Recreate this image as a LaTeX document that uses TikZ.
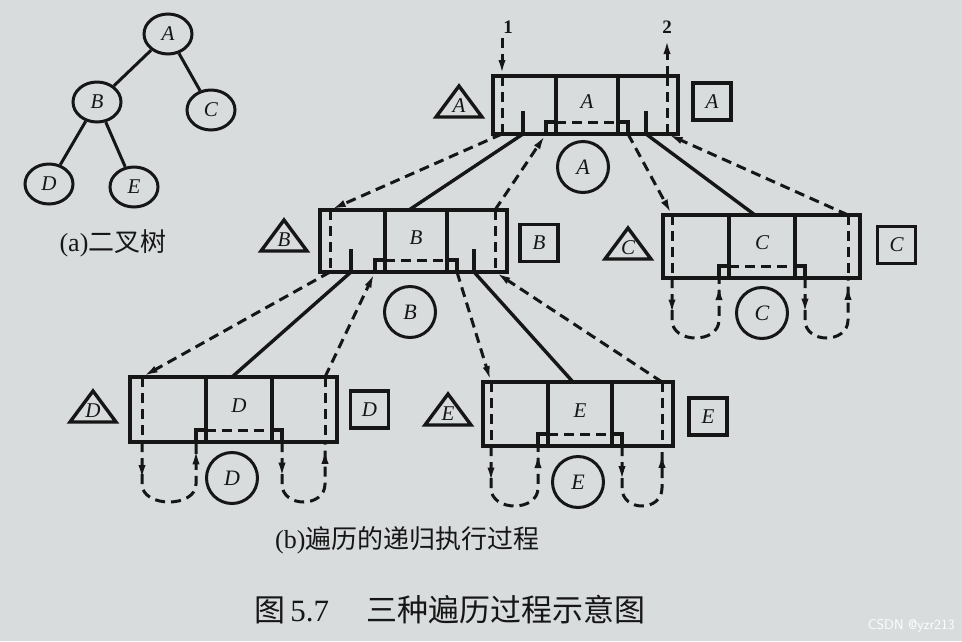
\documentclass[tikz,border=0pt]{standalone}
\usepackage{fontspec}
\setmainfont{Liberation Serif}
\newfontfamily\cjk{Noto Sans CJK SC}
\usetikzlibrary{arrows.meta,shapes.geometric,decorations.markings}
\definecolor{bgc}{RGB}{216,220,221}
\definecolor{ink}{RGB}{22,22,22}
\tikzset{
  arr/.style={-{Latex[length=16pt,width=7pt]}},
  box/.style={draw=ink, line width=3.4pt},
  dsh/.style={draw=ink, line width=3pt, dash pattern=on 10pt off 6pt},
  lett/.style={font=\fontsize{21}{21}\selectfont\itshape, text=ink, inner sep=0pt},
  tnode/.style={ellipse, draw=ink, line width=3pt, minimum width=48pt, minimum height=40pt, inner sep=0pt, font=\fontsize{21}{21}\selectfont\itshape, text=ink},
  cnode/.style={circle, draw=ink, line width=3pt, minimum size=51pt, inner sep=0pt, font=\fontsize{22}{22}\selectfont\itshape, text=ink},
  snode/.style={draw=ink, line width=3.4pt, minimum width=38pt, minimum height=37pt, inner sep=0pt, font=\fontsize{21}{21}\selectfont\itshape, text=ink},
  captxt/.style={font=\fontsize{26}{26}\selectfont, text=ink, inner sep=0pt},
  loopmarks/.style={postaction={decorate}, decoration={markings,
      mark=at position 0.25 with {\arrow{Latex[length=16pt,width=7pt]}},
      mark=at position 0.96 with {\arrow{Latex[length=16pt,width=7pt]}}}},
}
% #1 letter, #2 x1, #3 y1, #4 x2, #5 y2, #6 m1, #7 m2, #8 dl, #9 dr
\newcommand{\RecBox}[9]{%
  \draw[box] (#2,#3) rectangle (#4,#5);
  \draw[box] (#6,#3) -- (#6,#5) (#7,#3) -- (#7,#5);
  \node[lett] (mid#1) at ({(#6+#7)/2},{#3+0.44*(#5-#3)}) {#1};
  \draw[dsh] (#8,#3) -- (#8,#5);
  \draw[dsh] (#9,#3) -- (#9,#5);
  \draw[box] (#6-10,#5) -- (#6-10,#5-12) -- (#6,#5-12);
  \draw[dsh] (#6,#5-12) -- (#7,#5-12);
  \draw[box] (#7,#5-12) -- (#7+10,#5-12) -- (#7+10,#5);
  \coordinate (#1dlt) at (#8,#3);
  \coordinate (#1dlb) at (#8,#5);
  \coordinate (#1drt) at (#9,#3);
  \coordinate (#1drb) at (#9,#5);
  \coordinate (#1sl) at (#6-10,#5);
  \coordinate (#1sr) at (#7+10,#5);
  \coordinate (#1tl) at (#8+21,#5);
  \coordinate (#1tr) at (#9-21,#5);
  \coordinate (#1top) at ({(#6+#7)/2-7},#3);
  \coordinate (#1dll) at (#8,#5+42);
  \coordinate (#1sll) at (#6-10,#5+42);
  \coordinate (#1srl) at (#7+10,#5+42);
  \coordinate (#1drl) at (#9,#5+42);
}
% triangle: #1 letter, #2 cx, #3 base y
\newcommand{\TriMark}[3]{%
  \draw[box, line join=miter] (#2-23,#3) -- (#2,#3-31) -- (#2+23,#3) -- cycle;
  \node[lett] (tri#1) at (#2,#3-11) {#1};
}
\newcommand{\Ticks}[1]{%
  \draw[box] (#1tl) -- ++(0,-23);
  \draw[box] (#1tr) -- ++(0,-23);
}
\newcommand{\LeafLoops}[1]{%
  \draw[dsh, loopmarks] (#1dlb) -- (#1dll) .. controls +(0,24) and +(0,24) .. (#1sll) -- (#1sl);
  \draw[dsh, loopmarks] (#1sr) -- (#1srl) .. controls +(0,24) and +(0,24) .. (#1drl) -- (#1drb);
}
\newcommand{\Links}[2]{%
  \draw[dsh, arr] (#1dlb) -- (#2dlt);
  \draw[box] (#1tl) -- (#2top);
  \draw[dsh, arr] (#2drt) -- (#1sl);
}
\newcommand{\RLinks}[2]{%
  \draw[dsh, arr] (#1sr) -- (#2dlt);
  \draw[box] (#1tr) -- (#2top);
  \draw[dsh, arr] (#2drt) -- (#1drb);
}
\begin{document}
\begin{tikzpicture}[x=1pt,y=-1pt]
\fill[bgc] (0,0) rectangle (962,641);
\useasboundingbox (0,0) rectangle (962,641);

% (a) binary tree
\node[tnode] (tA) at (168,34) {A};
\node[tnode] (tB) at (97,102) {B};
\node[tnode] (tC) at (211,110) {C};
\node[tnode] (tD) at (49,184) {D};
\node[tnode] (tE) at (134,187) {E};
\draw[box, line width=3pt] (tA) -- (tB);
\draw[box, line width=3pt] (tA) -- (tC);
\draw[box, line width=3pt] (tB) -- (tD);
\draw[box, line width=3pt] (tB) -- (tE);
\node[captxt] (capa) at (113,243) {(a){\cjk 二叉树}};

% (b) record boxes
\RecBox{A}{493}{76}{678}{134}{556}{618}{502}{667}
\RecBox{B}{320}{210}{507}{272}{385}{447}{330}{495}
\RecBox{C}{663}{215}{860}{278}{729}{795}{672}{848}
\RecBox{D}{130}{377}{337}{442}{206}{272}{142}{325}
\RecBox{E}{483}{382}{673}{446}{548}{612}{491}{662}
\Ticks{A}
\Ticks{B}

% entry / exit
\node[font=\fontsize{19}{19}\selectfont\bfseries, text=ink, inner sep=0pt] (one) at (508,27) {1};
\node[font=\fontsize{19}{19}\selectfont\bfseries, text=ink, inner sep=0pt] (two) at (667,27) {2};
\coordinate (in1) at (502,38);
\coordinate (out2) at (667,38);
\draw[dsh, arr] (in1) -- (Adlt);
\draw[dsh, arr] (Adrt) -- (out2);

% links
\Links{A}{B}
\RLinks{A}{C}
\Links{B}{D}
\RLinks{B}{E}

% leaf loops
\LeafLoops{C}
\LeafLoops{D}
\LeafLoops{E}

% triangles, squares, circles
\TriMark{A}{459}{117}
\TriMark{B}{284}{251}
\TriMark{C}{628}{259}
\TriMark{D}{93}{422}
\TriMark{E}{448}{425}
\node[snode] (sqA) at (712,101.5) {A};
\node[snode] (sqB) at (539,243) {B};
\node[snode] (sqC) at (896.5,245) {C};
\node[snode] (sqD) at (369.5,409.5) {D};
\node[snode] (sqE) at (708,416.5) {E};
\node[cnode] (cA) at (583,167) {A};
\node[cnode] (cB) at (410,312) {B};
\node[cnode] (cC) at (762,313) {C};
\node[cnode] (cD) at (232,478) {D};
\node[cnode] (cE) at (578,482) {E};

% captions
\node[captxt, anchor=west] (capb) at (275,540) {(b){\cjk 遍历的递归执行过程}};
\node[captxt, anchor=west, font=\fontsize{31}{31}\selectfont] (capfig) at (254,610) {{\cjk 图}\,5.7\hspace{1.2em}{\cjk 三种遍历过程示意图}};
\node[anchor=east, text=white, font=\fontsize{14}{14}\selectfont\sffamily, inner sep=0pt] (wm) at (955,626) {CSDN @yzr213};
\end{tikzpicture}
\end{document}
